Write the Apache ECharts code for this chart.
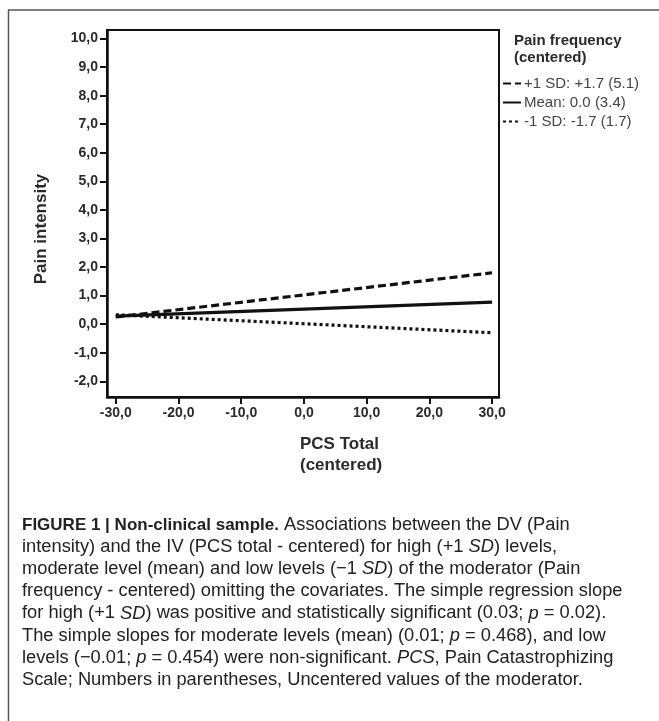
<!DOCTYPE html>
<html>
<head>
<meta charset="utf-8">
<script src="https://cdn.jsdelivr.net/npm/echarts@6/dist/echarts.min.js"></script>
<style>
html,body{margin:0;padding:0;background:#fff;}
#chart{width:659px;height:721px;}
</style>
</head>
<body>
<div id="chart"></div>
<script>
// ---- data ----
const xValues = [-30, 30];
const highSD = [0.25, 1.80];
const meanVals = [0.28, 0.77];
const lowSD = [0.33, -0.30];
const seriesNames = ['+1 SD: +1.7 (5.1)', 'Mean: 0.0 (3.4)', '-1 SD: -1.7 (1.7)'];
const xTicks = [-30, -20, -10, 0, 10, 20, 30];
const yTicks = [-2, -1, 0, 1, 2, 3, 4, 5, 6, 7, 8, 9, 10];
const captionLines = [
  '{b|FIGURE 1 | Non-clinical sample.} Associations between the DV (Pain',
  'intensity) and the IV (PCS total - centered) for high (+1 {i|SD}) levels,',
  'moderate level (mean) and low levels (\u22121 {i|SD}) of the moderator (Pain',
  'frequency - centered) omitting the covariates. The simple regression slope',
  'for high (+1 {i|SD}) was positive and statistically significant (0.03; {i|p} = 0.02).',
  'The simple slopes for moderate levels (mean) (0.01; {i|p} = 0.468), and low',
  'levels (\u22120.01; {i|p} = 0.454) were non-significant. {i|PCS}, Pain Catastrophizing',
  'Scale; Numbers in parentheses, Uncentered values of the moderator.'
];

const fmt = v => v.toFixed(1).replace('.', ',');
const toPairs = ys => xValues.map((x, i) => [x, ys[i]]);

const chart = echarts.init(document.getElementById('chart'), null, {renderer: 'canvas'});
const lineW = 3.2;
const capFont = 18.3;
const option = {
  animation: false,
  backgroundColor: '#fff',
  grid: {left: 107, right: 160, top: 30, bottom: 324, show: true, borderColor: '#111', borderWidth: 2},
  xAxis: {
    type: 'value', min: -31.4, max: 31.1,
    splitLine: {show: false},
    axisLine: {show: true, onZero: false, lineStyle: {color: '#111', width: 2.5}},
    axisTick: {show: true, customValues: xTicks, length: 7, lineStyle: {color: '#111', width: 2}},
    axisLabel: {customValues: xTicks, formatter: fmt, margin: 9, fontFamily: 'Liberation Sans', fontWeight: 'bold', fontSize: 14, color: '#2a2a2a'}
  },
  yAxis: {
    type: 'value', min: -2.55, max: 10.3,
    splitLine: {show: false},
    axisLine: {show: true, onZero: false, lineStyle: {color: '#111', width: 2.5}},
    axisTick: {show: true, customValues: yTicks, length: 7, lineStyle: {color: '#111', width: 2}},
    axisLabel: {customValues: yTicks, formatter: fmt, margin: 9, fontFamily: 'Liberation Sans', fontWeight: 'bold', fontSize: 14, color: '#2a2a2a'}
  },
  legend: {
    orient: 'vertical', left: 497, top: 71, itemWidth: 18, itemHeight: 14, itemGap: 4,
    data: seriesNames,
    itemStyle: {opacity: 0},
    textStyle: {fontFamily: 'Liberation Sans', fontSize: 15, lineHeight: 14, color: '#444', padding: [0,0,0,-2]}
  },
  series: [
    {name: seriesNames[0], type: 'line', data: toPairs(highSD), symbol: 'none', lineStyle: {color: '#111', width: lineW, type: [8, 4]}, itemStyle: {color: '#111'}},
    {name: seriesNames[1], type: 'line', data: toPairs(meanVals), symbol: 'none', lineStyle: {color: '#111', width: lineW, type: 'solid'}, itemStyle: {color: '#111'}},
    {name: seriesNames[2], type: 'line', data: toPairs(lowSD), symbol: 'none', lineStyle: {color: '#111', width: lineW, type: [3, 3]}, itemStyle: {color: '#111'}}
  ],
  graphic: [
    {type: 'line', shape: {x1: 8.5, y1: 10, x2: 8.5, y2: 721}, style: {stroke: '#555', lineWidth: 1.5}},
    {type: 'line', shape: {x1: 8, y1: 10, x2: 659, y2: 10}, style: {stroke: '#555', lineWidth: 1.5}},
    {type: 'text', left: 514, top: 32, style: {text: 'Pain frequency\n(centered)', fontFamily: 'Liberation Sans', fontWeight: 'bold', fontSize: 15, lineHeight: 17, fill: '#2a2a2a'}},
    {type: 'text', x: 41, y: 229, rotation: Math.PI / 2, style: {text: 'Pain intensity', fontFamily: 'Liberation Sans', fontWeight: 'bold', fontSize: 17, fill: '#2a2a2a', align: 'center', verticalAlign: 'middle'}},
    {type: 'text', left: 300, top: 434, style: {text: 'PCS Total\n(centered)', fontFamily: 'Liberation Sans', fontWeight: 'bold', fontSize: 17, lineHeight: 21, fill: '#2a2a2a'}},
    {type: 'text', left: 22, top: 514, style: {
      text: captionLines.join('\n'),
      fontFamily: 'Liberation Sans', fontSize: capFont, lineHeight: 22.1, fill: '#222',
      rich: {
        b: {fontFamily: 'Liberation Sans', fontWeight: 'bold', fontSize: 17, lineHeight: 22.1, fill: '#222'},
        i: {fontFamily: 'Liberation Sans', fontStyle: 'italic', fontSize: capFont, lineHeight: 22.1, fill: '#222'}
      }
    }}
  ]
};
chart.setOption(option);
</script>
</body>
</html>
